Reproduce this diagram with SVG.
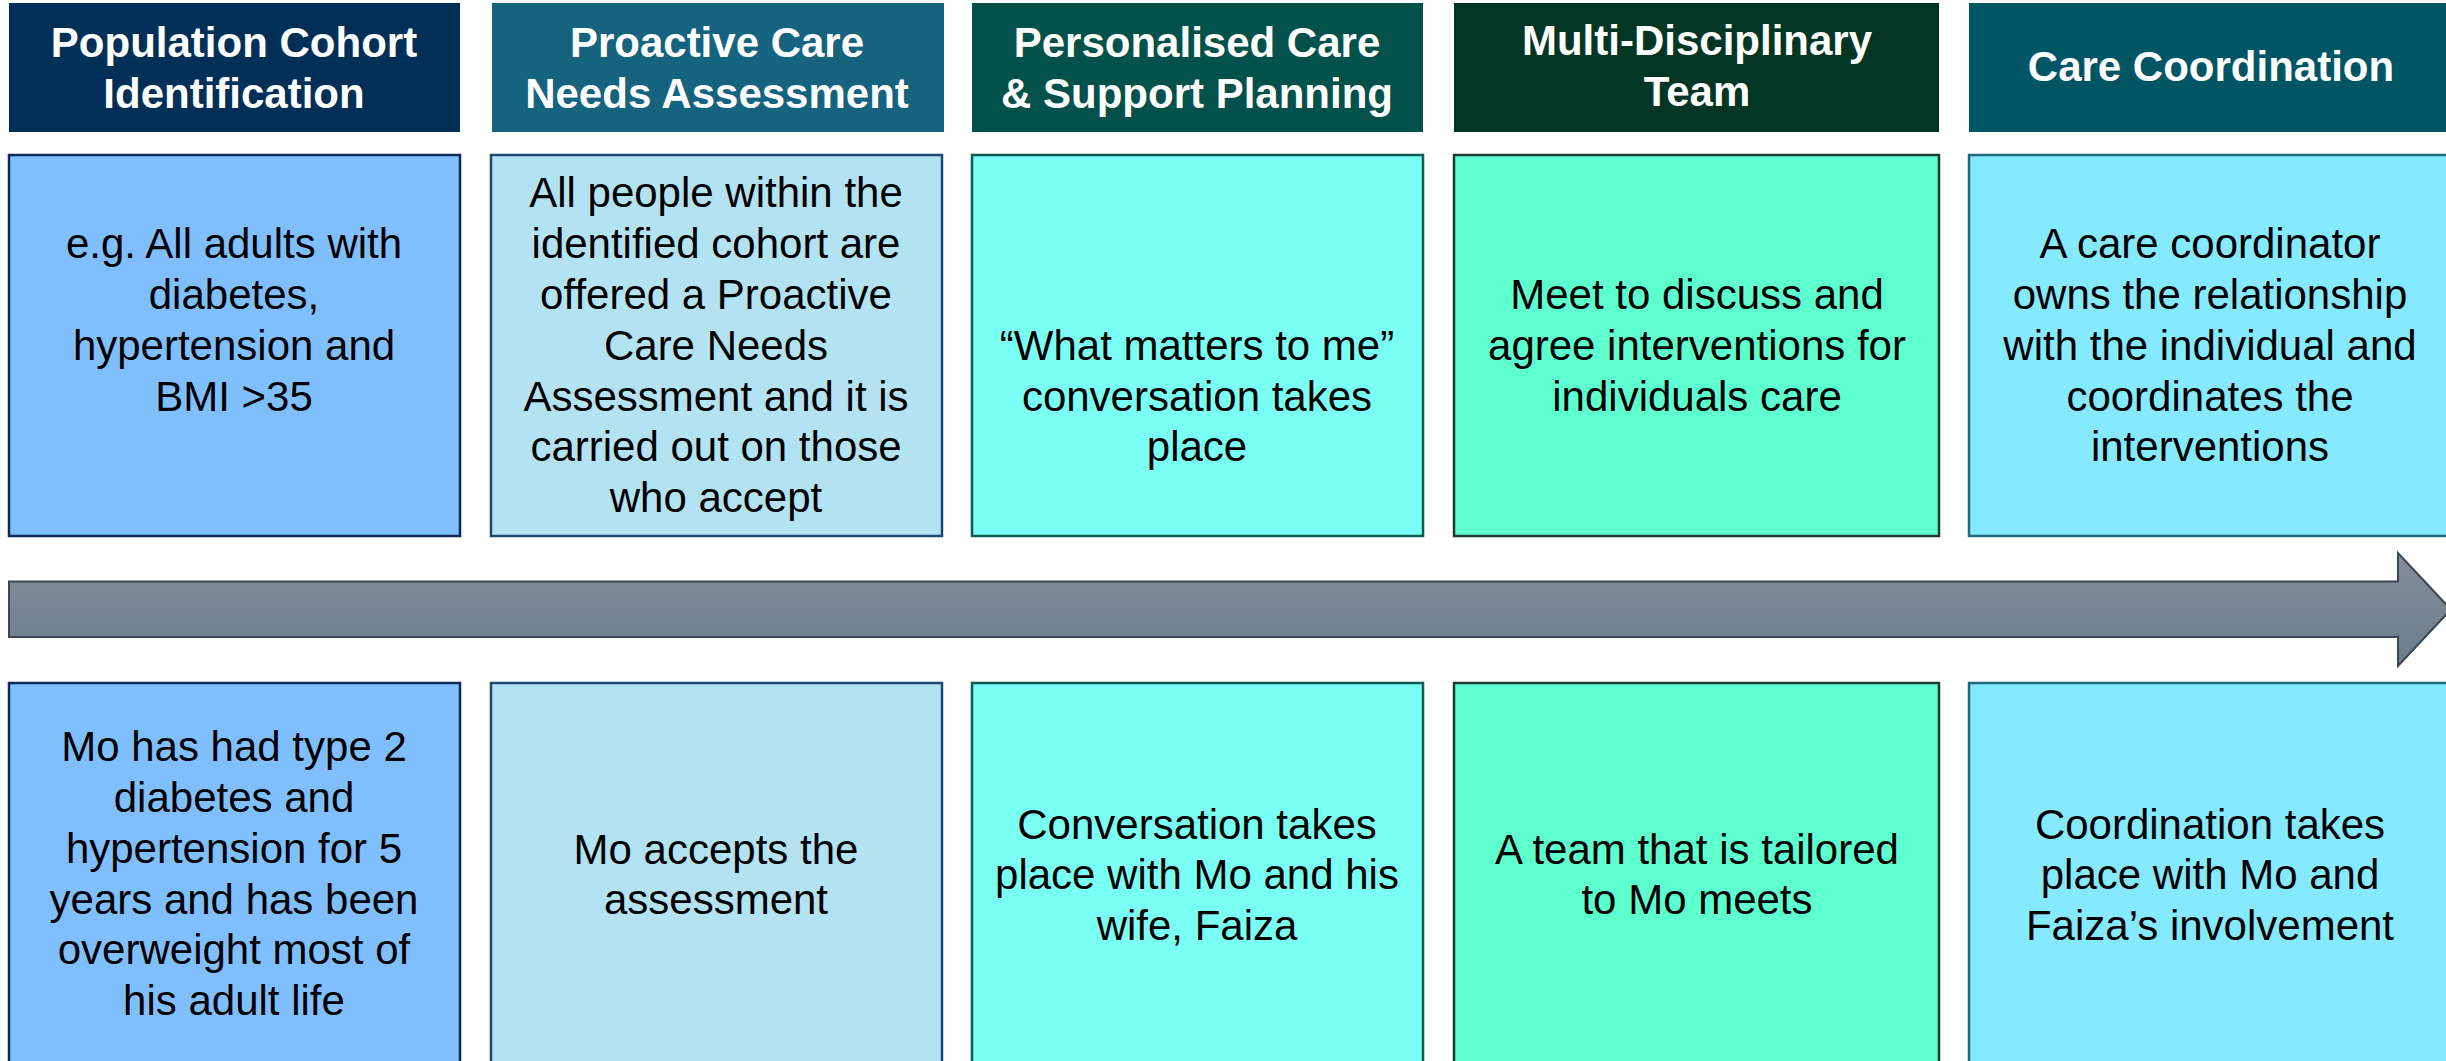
<svg xmlns="http://www.w3.org/2000/svg" width="2446" height="1061" viewBox="0 0 2446 1061">
<defs>
<style>
.hd{fill:#fff;font-family:"Liberation Sans",Arial,sans-serif;font-weight:bold;font-size:42px;text-anchor:middle}
.tx{fill:#000;font-family:"Liberation Sans",Arial,sans-serif;font-size:42px;text-anchor:middle}
.bx{stroke-width:2.5}
</style>
<linearGradient id="ag" x1="0" y1="0" x2="0" y2="1">
<stop offset="0" stop-color="#838F9B"/>
<stop offset="1" stop-color="#6A7D89"/>
</linearGradient>
</defs>
<rect width="2446" height="1061" fill="#fff"/>

<g id="col1">
<rect x="9" y="3" width="451" height="129" fill="#003057"/>
<text class="hd" x="234" y="57">Population Cohort</text>
<text class="hd" x="234" y="108">Identification</text>
<rect class="bx" x="9" y="155" width="451" height="381" fill="#80BFFF" stroke="#0C2A57"/>
<text class="tx" x="234" y="258">e.g. All adults with</text>
<text class="tx" x="234" y="309">diabetes,</text>
<text class="tx" x="234" y="360">hypertension and</text>
<text class="tx" x="234" y="411">BMI &gt;35</text>
<rect class="bx" x="9" y="683" width="451" height="400" fill="#80BFFF" stroke="#0C2A57"/>
<text class="tx" x="234" y="761">Mo has had type 2</text>
<text class="tx" x="234" y="812">diabetes and</text>
<text class="tx" x="234" y="863">hypertension for 5</text>
<text class="tx" x="234" y="914">years and has been</text>
<text class="tx" x="234" y="964">overweight most of</text>
<text class="tx" x="234" y="1015">his adult life</text>
</g>

<g id="col2">
<rect x="492" y="3" width="452" height="129" fill="#15637F"/>
<text class="hd" x="717" y="57">Proactive Care</text>
<text class="hd" x="717" y="108">Needs Assessment</text>
<rect class="bx" x="491" y="155" width="451" height="381" fill="#B3E2F3" stroke="#1A4A72"/>
<text class="tx" x="716" y="207">All people within the</text>
<text class="tx" x="716" y="258">identified cohort are</text>
<text class="tx" x="716" y="309">offered a Proactive</text>
<text class="tx" x="716" y="360">Care Needs</text>
<text class="tx" x="716" y="411">Assessment and it is</text>
<text class="tx" x="716" y="461">carried out on those</text>
<text class="tx" x="716" y="512">who accept</text>
<rect class="bx" x="491" y="683" width="451" height="400" fill="#B3E2F3" stroke="#1A4A72"/>
<text class="tx" x="716" y="864">Mo accepts the</text>
<text class="tx" x="716" y="914">assessment</text>
</g>

<g id="col3">
<rect x="972" y="3" width="451" height="129" fill="#02514A"/>
<text class="hd" x="1197" y="57">Personalised Care</text>
<text class="hd" x="1197" y="108">&amp; Support Planning</text>
<rect class="bx" x="972" y="155" width="451" height="381" fill="#7AFFF5" stroke="#0F5A52"/>
<text class="tx" x="1197" y="360">“What matters to me”</text>
<text class="tx" x="1197" y="411">conversation takes</text>
<text class="tx" x="1197" y="461">place</text>
<rect class="bx" x="972" y="683" width="451" height="400" fill="#7AFFF5" stroke="#0F5A52"/>
<text class="tx" x="1197" y="839">Conversation takes</text>
<text class="tx" x="1197" y="889">place with Mo and his</text>
<text class="tx" x="1197" y="940">wife, Faiza</text>
</g>

<g id="col4">
<rect x="1454" y="3" width="485" height="129" fill="#013624"/>
<text class="hd" x="1697" y="55">Multi-Disciplinary</text>
<text class="hd" x="1697" y="106">Team</text>
<rect class="bx" x="1454" y="155" width="485" height="381" fill="#5EFFCF" stroke="#1D3B2E"/>
<text class="tx" x="1697" y="309">Meet to discuss and</text>
<text class="tx" x="1697" y="360">agree interventions for</text>
<text class="tx" x="1697" y="411">individuals care</text>
<rect class="bx" x="1454" y="683" width="485" height="400" fill="#5EFFCF" stroke="#1D3B2E"/>
<text class="tx" x="1697" y="864">A team that is tailored</text>
<text class="tx" x="1697" y="914">to Mo meets</text>
</g>

<g id="col5">
<rect x="1969" y="3" width="490" height="129" fill="#005565"/>
<text class="hd" x="2211" y="81">Care Coordination</text>
<rect class="bx" x="1969" y="155" width="490" height="381" fill="#85E9FF" stroke="#1F6A7A"/>
<text class="tx" x="2210" y="258">A care coordinator</text>
<text class="tx" x="2210" y="309">owns the relationship</text>
<text class="tx" x="2210" y="360">with the individual and</text>
<text class="tx" x="2210" y="411">coordinates the</text>
<text class="tx" x="2210" y="461">interventions</text>
<rect class="bx" x="1969" y="683" width="490" height="400" fill="#85E9FF" stroke="#1F6A7A"/>
<text class="tx" x="2210" y="839">Coordination takes</text>
<text class="tx" x="2210" y="889">place with Mo and</text>
<text class="tx" x="2210" y="940">Faiza’s involvement</text>
</g>

<g id="connectors">
<polygon points="9,581.5 2398,581.5 2398,553 2451,609.5 2398,666 2398,637 9,637" fill="url(#ag)" stroke="#3D4650" stroke-width="2" stroke-linejoin="miter"/>
</g>
</svg>
